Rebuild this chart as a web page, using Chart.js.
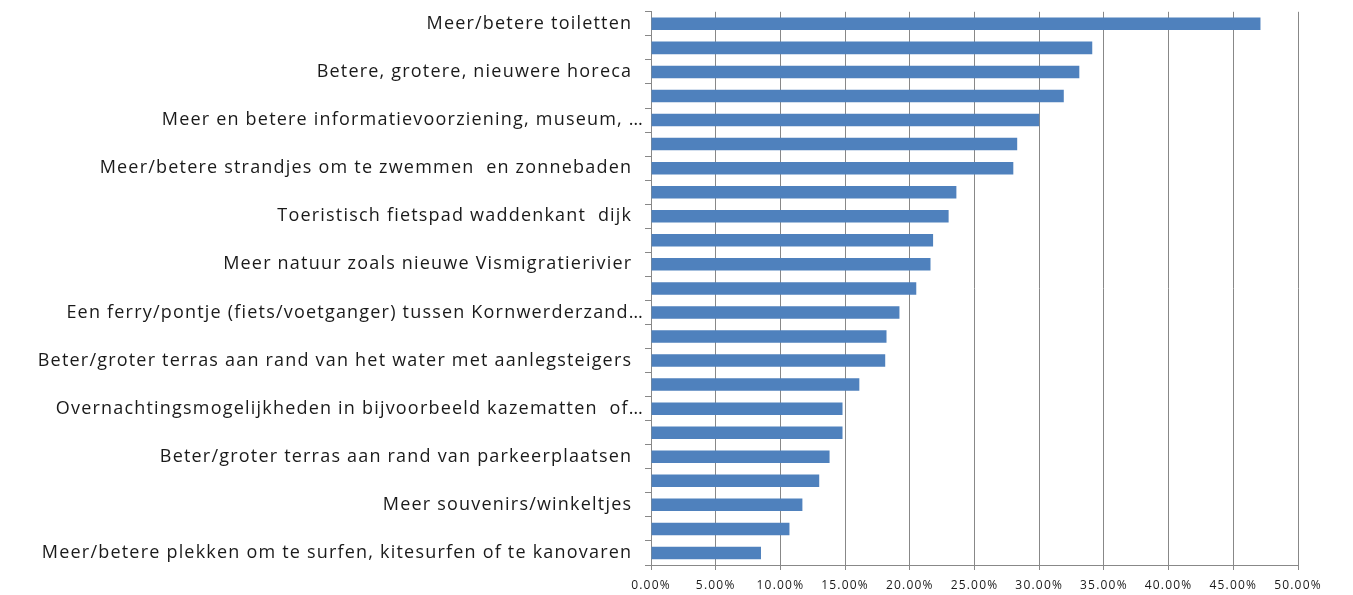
<!DOCTYPE html>
<html>
<head>
<meta charset="utf-8">
<script src="https://cdn.jsdelivr.net/npm/chart.js@4.4.1/dist/chart.umd.min.js"></script>
<style>
html,body{margin:0;padding:0;background:#fff;}
#wrap{position:absolute;left:0;top:0;width:1353px;height:595px;}
</style>
</head>
<body>
<div id="wrap"><canvas id="c" width="1353" height="595"></canvas></div>
<script>
const categories = [
  "Meer/betere toiletten  ",
  "",
  "Betere, grotere, nieuwere horeca  ",
  "",
  "Meer en betere informatievoorziening, museum, …",
  "",
  "Meer/betere strandjes om te zwemmen  en zonnebaden  ",
  "",
  "Toeristisch fietspad waddenkant  dijk  ",
  "",
  "Meer natuur zoals nieuwe Vismigratierivier  ",
  "",
  "Een ferry/pontje (fiets/voetganger) tussen Kornwerderzand…",
  "",
  "Beter/groter terras aan rand van het water met aanlegsteigers  ",
  "",
  "Overnachtingsmogelijkheden in bijvoorbeeld kazematten  of…",
  "",
  "Beter/groter terras aan rand van parkeerplaatsen  ",
  "",
  "Meer souvenirs/winkeltjes  ",
  "",
  "Meer/betere plekken om te surfen, kitesurfen of te kanovaren  "
];
const values = [47.1, 34.1, 33.1, 31.9, 30.0, 28.3, 28.0, 23.6, 23.0, 21.8, 21.6, 20.5,
                19.2, 18.2, 18.1, 16.1, 14.8, 14.8, 13.8, 13.0, 11.7, 10.7, 8.5];
const xMin = 0, xMax = 50, xStep = 5;

const SPACING = '1.2px';
const spacingPlugin = {
  id: 'spacing',
  beforeInit(chart){ chart.ctx.letterSpacing = SPACING; },
  beforeLayout(chart){ chart.ctx.letterSpacing = SPACING; },
  beforeDraw(chart){ chart.ctx.letterSpacing = SPACING; }
};

new Chart(document.getElementById('c'), {
  type: 'bar',
  data: {
    labels: categories,
    datasets: [{
      data: values,
      backgroundColor: '#4f81bd',
      borderWidth: 0,
      barPercentage: 0.52,
      categoryPercentage: 1.0
    }]
  },
  plugins: [spacingPlugin],
  options: {
    indexAxis: 'y',
    responsive: false,
    animation: false,
    layout: { padding: { left: 0, right: 55, top: 10, bottom: 0 } },
    plugins: { legend: { display: false }, tooltip: { enabled: false } },
    scales: {
      x: {
        min: xMin, max: xMax,
        ticks: {
          stepSize: xStep,
          color: '#1a1a1a',
          font: { family: 'Open Sans', size: 12 },
          padding: 8,
          maxRotation: 0,
          callback: v => v.toFixed(2) + '%'
        },
        grid: { color: '#888888', lineWidth: 1, drawTicks: true, tickLength: 5, tickColor: '#888888' },
        border: { color: '#888888', width: 1 },
        afterFit(scale){ scale.height = 30; }
      },
      y: {
        ticks: {
          autoSkip: false,
          color: '#1a1a1a',
          font: { family: 'Open Sans', size: 18 },
          padding: 1
        },
        grid: { drawOnChartArea: false, drawTicks: true, tickLength: 6, color: '#888888', offset: true },
        border: { color: '#888888', width: 1 },
        afterFit(scale){ scale.width = 651; }
      }
    }
  }
});
</script>
</body>
</html>
